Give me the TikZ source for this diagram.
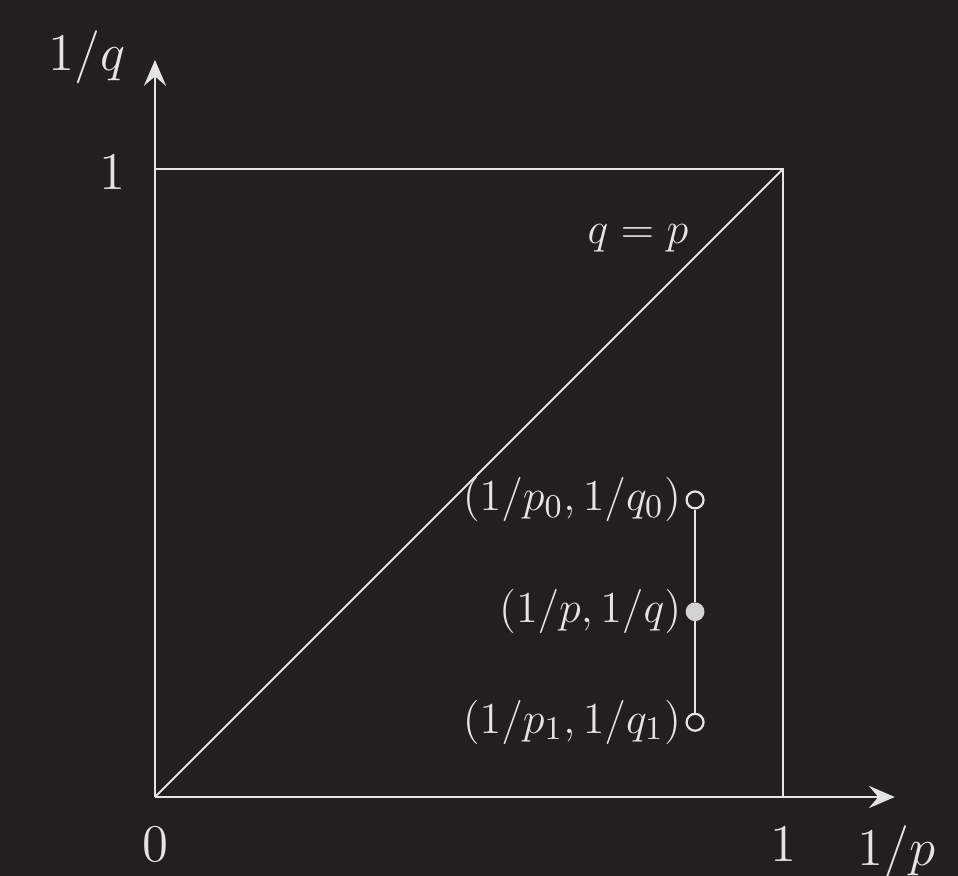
\documentclass[tikz,border=0pt]{standalone}
\usepackage{amsmath,amssymb}
\usepackage{tikz}
\usetikzlibrary{arrows.meta,calc,backgrounds}
\definecolor{bgdark}{HTML}{231F20}
\definecolor{linegray}{HTML}{E4E4E4}
\definecolor{dotgray}{HTML}{D2D2D2}
\tikzset{
  opendot/.style={circle,draw=linegray,fill=bgdark,inner sep=0pt,minimum size=4.6pt,line width=0.6pt},
  fulldot/.style={circle,draw=dotgray,fill=dotgray,inner sep=0pt,minimum size=4.6pt},
  ptlabel/.style={font=\fontsize{12.5}{15}\selectfont,anchor=east,inner sep=1pt},
}
\begin{document}
\begin{tikzpicture}[x=6cm,y=6cm,color=linegray,line width=0.5pt]
        % 背景
        \fill[bgdark](-0.2468,-0.1258)rectangle(1.2787,1.2691);
        \useasboundingbox(-0.2468,-0.1258)rectangle(1.2787,1.2691);
        \coordinate(O)at(0,0);
        \coordinate(X)at(1.178,0);
        \coordinate(Y)at(0,1.1736);
        \coordinate(A)at(1,1);
        % 軸
        \draw[-{Stealth[length=7pt,width=6pt,inset=2.5pt]},line width=0.8pt](O)--(X);
        \draw[-{Stealth[length=7pt,width=6pt,inset=2.5pt]},line width=0.8pt](O)--(Y);
        \node[font=\Large](xlab)at(1.181,-0.088){$1/p$};
        \node[font=\Large](ylab)at(-0.108,1.178){$1/q$};
        \node[font=\Large](zero)at(0,-0.076){$0$};
        \node[font=\Large](xone)at(1,-0.076){$1$};
        \node[font=\Large](yone)at(-0.068,0.995){$1$};
        % 正方形と対角線
        \draw(0,1)--(A)--(1,0);
        \draw(O)--(A);
        \node[font=\large](diag)at(0.769,0.890){$q=p$};
        % 補間の点
        \node[opendot](P0)at(0.86,0.473){};
        \node[fulldot](P)at(0.86,0.295){};
        \node[opendot](P1)at(0.86,0.119){};
        \draw(P0)--(P);
        \draw(P)--(P1);
        \node[ptlabel](P0lab)at(P0.west){$(1/p_{0},1/q_{0})$};
        \node[ptlabel](Plab)at(P.west){$(1/p,1/q)$};
        \node[ptlabel](P1lab)at(P1.west){$(1/p_{1},1/q_{1})$};
    \end{tikzpicture}
\end{document}
